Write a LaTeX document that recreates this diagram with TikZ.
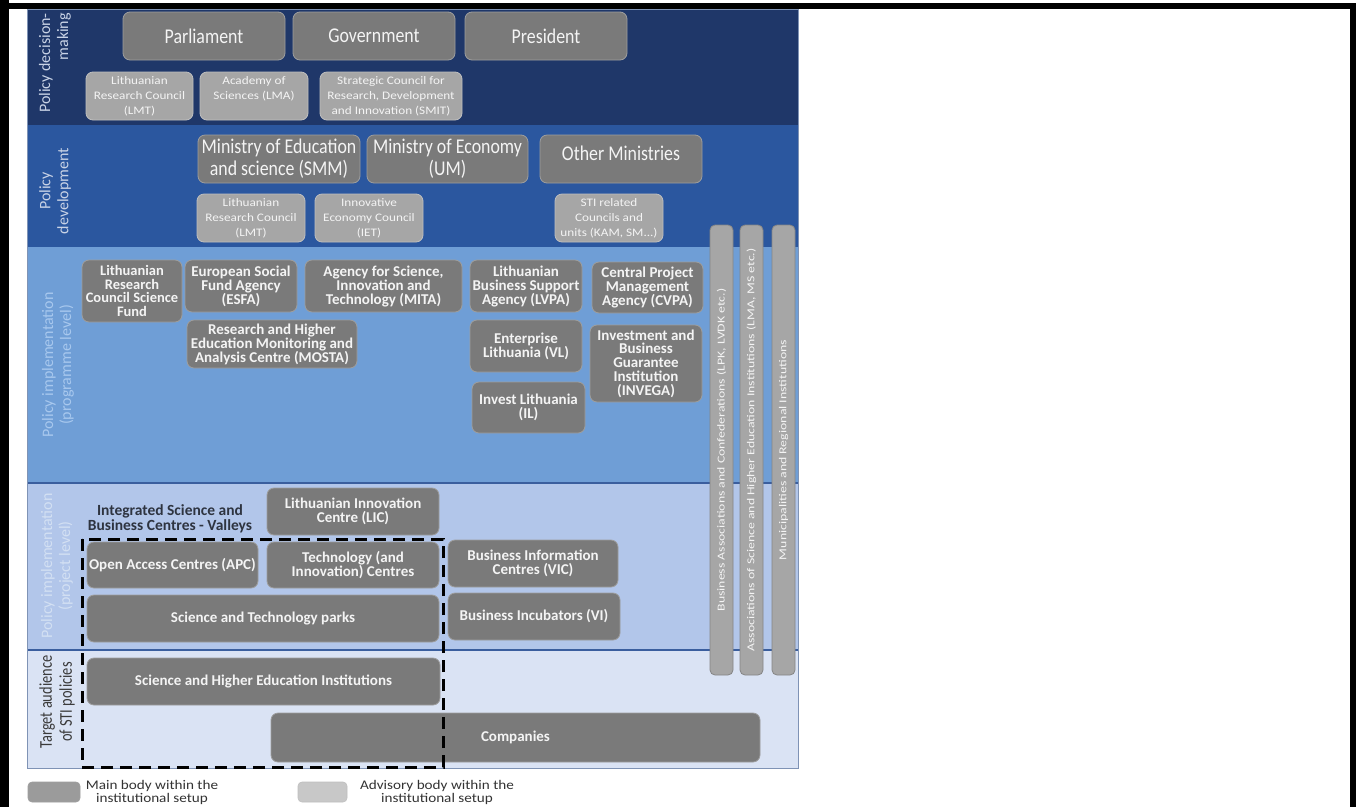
\documentclass[tikz,border=0pt]{standalone}
\usepackage{fontspec}
\setmainfont{Carlito}
\newfontfamily\fA[FakeStretch=0.85]{Carlito}
\newfontfamily\fC[FakeStretch=1.15]{Carlito}
\newfontfamily\fD[FakeStretch=1.3]{Carlito}
\newfontfamily\fE[FakeStretch=0.8]{Carlito}
\definecolor{bandA}{HTML}{1F3769}
\definecolor{bandB}{HTML}{2B579F}
\definecolor{bandC}{HTML}{6F9ED6}
\definecolor{bandD}{HTML}{B2C6EA}
\definecolor{bandE}{HTML}{DAE3F4}
\definecolor{sepline}{HTML}{3A5E9E}
\definecolor{outerline}{HTML}{7F93B5}
\definecolor{mainfill}{HTML}{7A7A7A}
\definecolor{mainedge}{HTML}{9E9E9E}
\definecolor{advfill}{HTML}{A6A6A6}
\definecolor{advedge}{HTML}{BFBFBF}
\definecolor{barfill}{HTML}{A6A6A6}
\definecolor{baredge}{HTML}{858585}
\definecolor{nodetext}{HTML}{F4F4F4}
\definecolor{labA}{HTML}{C9D3E6}
\definecolor{labC}{HTML}{A8C8EE}
\definecolor{labD}{HTML}{D3E0F3}
\definecolor{labE}{HTML}{3A3A3A}
\definecolor{darktext}{HTML}{2E3440}
\definecolor{legtext}{HTML}{333333}
\definecolor{legmainfill}{HTML}{9B9B9B}
\definecolor{legadvfill}{HTML}{C8C8C8}
\tikzset{
  mainbox/.style={draw=mainedge, fill=mainfill, rounded corners=7pt, line width=0.8pt,
    inner sep=0pt, align=center, text=nodetext},
  bigbox/.style={mainbox, font=\fA\fontsize{21}{22}\selectfont},
  midbox/.style={mainbox, font=\bfseries\fontsize{15}{14}\selectfont},
  advbox/.style={draw=advedge, fill=advfill, rounded corners=7pt, line width=0.8pt,
    inner sep=0pt, align=center, text=nodetext, font=\fC\fontsize{11.5}{15}\selectfont},
  barbox/.style={draw=baredge, fill=barfill, rounded corners=5pt, line width=0.8pt,
    inner sep=0pt, rotate=90, minimum width=450pt, minimum height=23pt,
    text=nodetext, font=\fD\fontsize{10.6}{11}\selectfont},
  bandlabel/.style={rotate=90, align=center, inner sep=0pt, font=\fontsize{16}{18}\selectfont},
  legswatch/.style={rounded corners=4pt, line width=0.6pt, inner sep=0pt},
  legtextstyle/.style={align=center, inner sep=0pt, text=legtext, font=\fC\fontsize{13.2}{13}\selectfont},
}
\begin{document}
\begin{tikzpicture}[x=1pt,y=-1pt]
\useasboundingbox (0,0) rectangle (1360,807);
\fill[white] (0,0) rectangle (1360,807);
% outer black frame
\fill[black] (0,0) rectangle (9,807);
\fill[black] (0,3) rectangle (1356,9);
\fill[black] (1350,3) rectangle (1356,807);
% bands
\fill[bandA] (27,9) rectangle (798,125);
\fill[bandB] (27,125) rectangle (798,247);
\fill[bandC] (27,247) rectangle (798,483);
\fill[bandD] (27,483) rectangle (798,650);
\fill[bandE] (27,650) rectangle (798,768);
\draw[sepline, line width=2pt] (27,483) -- (798,483);
\draw[sepline, line width=2pt] (27,650) -- (798,650);
\draw[outerline, line width=1pt] (27,9) rectangle (798,768);

% band labels
\node[bandlabel, text=labA, align=right] (labA) at (55,63) {Policy decision-\\making};
\node[bandlabel, text=labA] (labB) at (55,191) {Policy\\development};
\node[bandlabel, text=labC] (labC) at (58,365) {Policy implementation\\(programme level)};
\node[bandlabel, text=labD] (labD) at (57,566) {Policy implementation\\(project level)};
\node[bandlabel, text=labE, font=\fE\fontsize{18}{20}\selectfont] (labE) at (57,702) {Target audience\\of STI policies};

% band 1
\node[bigbox, minimum width=162pt, minimum height=48pt] (parl) at (204,36) {Parliament};
\node[bigbox, minimum width=162pt, minimum height=48pt] (gov) at (374,36) {Government};
\node[bigbox, minimum width=162pt, minimum height=48pt] (pres) at (546,36) {President};
\node[advbox, minimum width=107pt, minimum height=48pt] (lmtA) at (139.5,96) {Lithuanian\\Research Council\\(LMT)};
\node[advbox, minimum width=108pt, minimum height=48pt, text depth=16pt] (lma) at (254,96) {Academy of\\Sciences (LMA)};
\node[advbox, minimum width=142pt, minimum height=48pt] (smit) at (391,96) {Strategic Council for\\Research, Development\\and Innovation (SMIT)};

% band 2
\node[bigbox, minimum width=162pt, minimum height=48pt] (smm) at (279,159) {Ministry of Education\\and science (SMM)};
\node[bigbox, minimum width=161pt, minimum height=48pt] (um) at (447.5,159) {Ministry of Economy\\(UM)};
\node[bigbox, minimum width=162pt, minimum height=48pt, text depth=12pt] (oth) at (621,159) {Other Ministries};
\node[advbox, minimum width=108pt, minimum height=48pt] (lmtB) at (251,218) {Lithuanian\\Research Council\\(LMT)};
\node[advbox, minimum width=108pt, minimum height=48pt] (iet) at (369,218) {Innovative\\Economy Council\\(IET)};
\node[advbox, minimum width=108pt, minimum height=48pt] (sti) at (609,218) {STI related\\Councils and\\units (KAM, SM...)};

% band 3
\node[midbox, minimum width=100pt, minimum height=62pt, font=\bfseries\fontsize{14.5}{13.5}\selectfont] (lrcsf) at (132,291) {Lithuanian\\Research\\Council Science\\Fund};
\node[midbox, minimum width=112pt, minimum height=52pt] (esfa) at (241,286) {European Social\\Fund Agency\\(ESFA)};
\node[midbox, minimum width=157pt, minimum height=52pt] (mita) at (383.5,286) {Agency for Science,\\Innovation and\\Technology (MITA)};
\node[midbox, minimum width=170pt, minimum height=48pt] (mosta) at (272,344) {Research and Higher\\Education Monitoring and\\Analysis Centre (MOSTA)};
\node[midbox, minimum width=112pt, minimum height=52pt] (lvpa) at (526,286) {Lithuanian\\Business Support\\Agency (LVPA)};
\node[midbox, minimum width=111pt, minimum height=51pt] (cvpa) at (647.5,287.5) {Central Project\\Management\\Agency (CVPA)};
\node[midbox, minimum width=112pt, minimum height=52pt] (vl) at (526,346) {Enterprise\\Lithuania (VL)};
\node[midbox, minimum width=112pt, minimum height=77pt, font=\bfseries\fontsize{15}{13.7}\selectfont] (invega) at (646,363.5) {Investment and\\Business\\Guarantee\\Institution\\(INVEGA)};
\node[midbox, minimum width=113pt, minimum height=51pt] (il) at (528.5,407.5) {Invest Lithuania\\(IL)};

% band 4
\node[align=center, inner sep=0pt, text=darktext, font=\bfseries\fontsize{15.5}{13}\selectfont] (valleys) at (170,519) {Integrated Science and\\Business Centres - Valleys};
\node[midbox, minimum width=172pt, minimum height=47pt] (lic) at (353,511.5) {Lithuanian Innovation\\Centre (LIC)};
\node[midbox, minimum width=171pt, minimum height=46pt] (apc) at (172.5,565) {Open Access Centres (APC)};
\node[midbox, minimum width=172pt, minimum height=46pt] (tic) at (353,565) {Technology (and\\Innovation) Centres};
\node[midbox, minimum width=170pt, minimum height=47pt] (vic) at (533,563.5) {Business Information\\Centres (VIC)};
\node[midbox, minimum width=352pt, minimum height=47pt] (stp) at (263,618.5) {Science and Technology parks};
\node[midbox, minimum width=172pt, minimum height=47pt] (vi) at (534,616.5) {Business Incubators (VI)};

% band 5
\node[midbox, minimum width=353pt, minimum height=47pt] (shei) at (263.5,681.5) {Science and Higher Education Institutions};
\node[midbox, minimum width=489pt, minimum height=49pt] (comp) at (515.5,737.5) {Companies};

% dashed grouping
\draw[black, line width=3pt, dash pattern=on 12pt off 7pt] (82,539) rectangle (443,767);

% vertical bars
\node[barbox] (barA) at (721.5,450) {Business Associations and Confederations (LPK, LVDK etc.)};
\node[barbox] (barB) at (751.5,450) {Associations of Science and Higher Education Institutions (LMA, MS etc.)};
\node[barbox] (barC) at (783.5,450) {Municipalities and Regional Institutions};

% legend
\node[legswatch, fill=legmainfill, draw=mainedge, minimum width=52pt, minimum height=20pt] (legmain) at (54,792) {};
\node[legtextstyle] (legmaintext) at (152,792) {Main body within the\\institutional setup};
\node[legswatch, fill=legadvfill, draw=advedge, minimum width=49pt, minimum height=20pt] (legadv) at (322.5,792) {};
\node[legtextstyle] (legadvtext) at (437,792) {Advisory body within the\\institutional setup};
\end{tikzpicture}
\end{document}
